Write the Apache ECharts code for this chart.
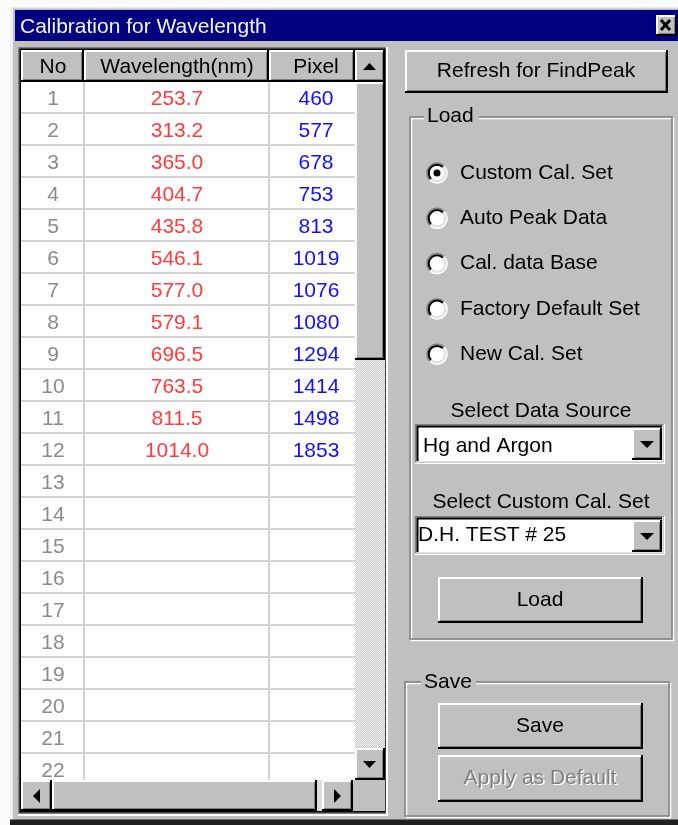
<!DOCTYPE html>
<html>
<head>
<meta charset="utf-8">
<script src="https://cdn.jsdelivr.net/npm/echarts@6/dist/echarts.min.js"></script>
<style>
html,body{margin:0;padding:0;background:#fafafa;}
#chart{width:678px;height:825px;}
</style>
</head>
<body>
<div id="chart"></div>
<script>
// ---- data ----
const windowTitle = 'Calibration for Wavelength';
const columnHeaders = ['No', 'Wavelength(nm)', 'Pixel'];
const rowNumbers = [1, 2, 3, 4, 5, 6, 7, 8, 9, 10, 11, 12, 13, 14, 15, 16, 17, 18, 19, 20, 21, 22];
const wavelengths = [253.7, 313.2, 365.0, 404.7, 435.8, 546.1, 577.0, 579.1, 696.5, 763.5, 811.5, 1014.0];
const pixels = [460, 577, 678, 753, 813, 1019, 1076, 1080, 1294, 1414, 1498, 1853];
const loadOptions = ['Custom Cal. Set', 'Auto Peak Data', 'Cal. data Base', 'Factory Default Set', 'New Cal. Set'];
const selectedLoad = 0;
const dataSourceLabel = 'Select Data Source';
const dataSourceValue = 'Hg and Argon';
const customSetLabel = 'Select Custom Cal. Set';
const customSetValue = 'D.H. TEST # 25';

// ---- layout / style ----
const FONT = '21px "Liberation Sans", Arial, sans-serif';
const COL_CENTERS = [32, 156, 295];
const COL_LINES = [63, 248];
const GRID = {left: 21, top: 82, width: 334, height: 704};

let zc = 0;
function Z(base) { return base + (zc++) * 0.0001; }
const els = [];
function R(x, y, w, h, fill, L) {
  els.push({type: 'rect', silent: true, z: Z(L), shape: {x, y, width: w, height: h}, style: {fill}});
}
function SR(x, y, w, h, stroke, lw, L) {
  els.push({type: 'rect', silent: true, z: Z(L), shape: {x, y, width: w, height: h}, style: {fill: 'none', stroke, lineWidth: lw}});
}
function T(text, x, y, fill, align, L, font) {
  els.push({type: 'text', silent: true, z: Z(L), style: {
    text, x, y, fill, font: font || FONT,
    align: align || 'left', textAlign: align || 'left',
    verticalAlign: 'middle', textVerticalAlign: 'middle'
  }});
}
function raised(x, y, w, h, L) {
  R(x, y, w, h, '#000', L);
  R(x, y, w - 2, h - 2, '#fff', L);
  R(x + 2, y + 2, w - 4, h - 4, '#808080', L);
  R(x + 2, y + 2, w - 5, h - 5, '#c0c0c0', L);
}
function sunken(x, y, w, h, face, L) {
  R(x, y, w, h, '#fff', L);
  R(x, y, w - 1.5, h - 1.5, '#808080', L);
  R(x + 1.5, y + 1.5, w - 3, h - 3, '#dfdfdf', L);
  R(x + 1.5, y + 1.5, w - 4.5, h - 4.5, '#000', L);
  R(x + 3.5, y + 3.5, w - 6.5, h - 6.5, face, L);
}
function tri(points, L) {
  els.push({type: 'polygon', silent: true, z: Z(L), shape: {points}, style: {fill: '#000'}});
}
function etched(x, y, w, h, L) {
  SR(x + 1.5, y + 1.5, w, h, '#fff', 1.5, L);
  SR(x, y, w, h, '#808080', 1.5, L);
}
function arc(cx, cy, r, a0, a1, stroke, lw, L) {
  els.push({type: 'arc', silent: true, z: Z(L), shape: {cx, cy, r, startAngle: a0, endAngle: a1, clockwise: true}, style: {fill: 'none', stroke, lineWidth: lw}});
}
function radio(cx, cy, on, L) {
  const P = Math.PI;
  els.push({type: 'circle', silent: true, z: Z(L), shape: {cx, cy, r: 10}, style: {fill: '#fff'}});
  arc(cx, cy, 10, P * 0.75, P * 1.75, '#808080', 1.5, L);
  arc(cx, cy, 10, -P * 0.25, P * 0.75, '#ffffff', 1.5, L);
  arc(cx, cy, 8.3, P * 0.75, P * 1.75, '#000', 2, L);
  arc(cx, cy, 8.3, -P * 0.25, P * 0.75, '#dfdfdf', 2, L);
  if (on) els.push({type: 'circle', silent: true, z: Z(L), shape: {cx, cy, r: 3.5}, style: {fill: '#000'}});
}

// stipple pattern
const pc = document.createElement('canvas');
pc.width = 2; pc.height = 2;
const pctx = pc.getContext('2d');
pctx.fillStyle = '#c8c8c8'; pctx.fillRect(0, 0, 2, 2);
pctx.fillStyle = '#f2f2f2'; pctx.fillRect(0, 0, 1, 1); pctx.fillRect(1, 1, 1, 1);
const STIPPLE = {image: pc, repeat: 'repeat'};

// ---- background layer (below series) ----
const B = 0;
R(10, 7, 668, 813, '#c0c0c0', B);
R(10, 7, 668, 1.5, '#e8e8e8', B);
R(10, 7, 3, 813, '#efefef', B);
R(10, 819.5, 668, 6, '#202020', B);
// title bar
R(15, 10, 663, 31, '#000080', B);
T(windowTitle, 20, 27, '#f4f4f4', 'left', B);
// close button
raised(656, 15, 21, 21, B);
els.push({type: 'line', silent: true, z: Z(B), shape: {x1: 661, y1: 20, x2: 670, y2: 30}, style: {stroke: '#000', lineWidth: 3}});
els.push({type: 'line', silent: true, z: Z(B), shape: {x1: 670, y1: 20, x2: 661, y2: 30}, style: {stroke: '#000', lineWidth: 3}});
// table frame
R(18, 47, 370, 769, '#fff', B);
R(18, 47, 368, 767, '#808080', B);
R(19.5, 48.5, 366, 764, '#000', B);
R(21, 50, 364, 761, '#ffffff', B);

// ---- right panel ----
raised(405, 50, 263, 43, B);
T('Refresh for FindPeak', 536, 71, '#000', 'center', B);

etched(410, 117, 262, 522, B);
R(424, 104, 55, 24, '#c0c0c0', B);
T('Load', 427, 116, '#000', 'left', B);
const radioY0 = 173, radioStep = 45.3;
loadOptions.forEach((label, i) => {
  const cy = radioY0 + i * radioStep;
  radio(437, cy, i === selectedLoad, B);
  T(label, 460, cy, '#000', 'left', B);
});

T(dataSourceLabel, 541, 411, '#000', 'center', B);
sunken(415, 424, 250, 40, '#fff', B);
T(dataSourceValue, 423, 446, '#000', 'left', B);
raised(632, 428, 30, 32, B);
tri([[640, 441], [654, 441], [647, 448]], B);

T(customSetLabel, 541, 502, '#000', 'center', B);
sunken(415, 516, 250, 39, '#fff', B);
T(customSetValue, 418, 535, '#000', 'left', B);
raised(632, 520, 30, 32, B);
tri([[640, 533], [654, 533], [647, 540]], B);

raised(438, 577, 205, 46, B);
T('Load', 540, 600, '#000', 'center', B);

etched(405, 682, 264, 134, B);
R(421, 670, 55, 24, '#c0c0c0', B);
T('Save', 424, 682, '#000', 'left', B);
raised(438, 703, 205, 46, B);
T('Save', 540, 726, '#000', 'center', B);
raised(438, 755, 205, 47, B);
T('Apply as Default', 541.5, 779.5, '#ffffff', 'center', B);
T('Apply as Default', 540, 778, '#808080', 'center', B);

// ---- overlay layer (above series) ----
const O = 20;
// header
const headerEdges = [21, 84, 269, 355];
columnHeaders.forEach((h, i) => {
  raised(headerEdges[i], 50, headerEdges[i + 1] - headerEdges[i], 32, O);
});
T(columnHeaders[0], 53, 67, '#000', 'center', O);
T(columnHeaders[1], 177, 67, '#000', 'center', O);
T(columnHeaders[2], 316, 67, '#000', 'center', O);
// vertical scrollbar
els.push({type: 'rect', silent: true, z: Z(O), shape: {x: 355, y: 82, width: 30, height: 698}, style: {fill: STIPPLE}});
raised(355, 50, 30, 32, O);
tri([[363, 70], [376, 70], [369.5, 63]], O);
raised(355, 82, 30, 278, O);
raised(355, 748, 30, 32, O);
tri([[363, 761], [376, 761], [369.5, 768]], O);
// horizontal scrollbar
els.push({type: 'rect', silent: true, z: Z(O), shape: {x: 21, y: 780, width: 334, height: 31}, style: {fill: STIPPLE}});
R(353, 780, 32, 31, '#c0c0c0', O);
raised(21, 780, 31, 31, O);
tri([[40, 789], [40, 803], [33, 796]], O);
raised(52, 780, 265, 31, O);
raised(322, 780, 31, 31, O);
tri([[334, 789], [334, 803], [341, 796]], O);

// ---- table series ----
function cellBase(params, api) {
  const idx = api.value(1);
  const c = api.coord([0, idx]);
  const h = api.size([0, 1])[1];
  const cs = params.coordSys;
  return {idx, cy: c[1], top: c[1] - h / 2, h, x0: cs.x, w: cs.width};
}
function textEl(text, x, y, fill) {
  return {type: 'text', style: {text, x, y, fill, font: FONT, align: 'center', textAlign: 'center', verticalAlign: 'middle', textVerticalAlign: 'middle'}};
}

const option = {
  backgroundColor: '#fafafa',
  animation: false,
  grid: {left: GRID.left, top: GRID.top, width: GRID.width, height: GRID.height, containLabel: false},
  xAxis: {type: 'value', min: 0, max: 1, show: false},
  yAxis: {type: 'category', inverse: true, show: false, data: rowNumbers.map(String)},
  graphic: {elements: els},
  series: [
    {
      type: 'custom', name: 'No', clip: true, z: 2,
      data: rowNumbers.map((n, i) => [0, i, n]),
      renderItem: (params, api) => {
        const b = cellBase(params, api);
        return {type: 'group', children: [
          {type: 'rect', shape: {x: b.x0, y: b.top, width: b.w, height: b.h}, style: {fill: '#fff'}},
          {type: 'rect', shape: {x: b.x0, y: b.top + b.h - 2, width: b.w, height: 2}, style: {fill: '#d3d3d3'}},
          {type: 'rect', shape: {x: b.x0 + COL_LINES[0] - 1, y: b.top, width: 2, height: b.h}, style: {fill: '#d3d3d3'}},
          {type: 'rect', shape: {x: b.x0 + COL_LINES[1] - 1, y: b.top, width: 2, height: b.h}, style: {fill: '#d3d3d3'}},
          textEl(String(api.value(2)), b.x0 + COL_CENTERS[0], b.cy + 1, '#8a8a8a')
        ]};
      }
    },
    {
      type: 'custom', name: 'Wavelength(nm)', clip: true, z: 3,
      data: wavelengths.map((w, i) => [0, i, w]),
      renderItem: (params, api) => {
        const b = cellBase(params, api);
        return textEl(Number(api.value(2)).toFixed(1), b.x0 + COL_CENTERS[1], b.cy + 1, '#ff3b3b');
      }
    },
    {
      type: 'custom', name: 'Pixel', clip: true, z: 3,
      data: pixels.map((p, i) => [0, i, p]),
      renderItem: (params, api) => {
        const b = cellBase(params, api);
        return textEl(String(api.value(2)), b.x0 + COL_CENTERS[2], b.cy + 1, '#1010ff');
      }
    }
  ]
};

const chart = echarts.init(document.getElementById('chart'), null, {renderer: 'canvas', width: 678, height: 825});
chart.setOption(option);
</script>
</body>
</html>
